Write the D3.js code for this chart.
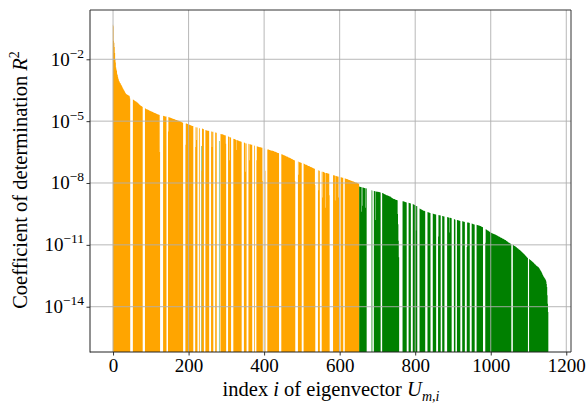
<!DOCTYPE html>
<html>
<head>
<meta charset="utf-8">
<script src="https://cdn.jsdelivr.net/npm/d3@7"></script>
<style>
  body { margin: 0; background: #fff; }
  svg { display: block; }
  text { font-family: "Liberation Serif", "Times New Roman", serif; fill: #000; }
</style>
</head>
<body>
<svg id="chart" width="587" height="406"></svg>
<script>
// log10 of R^2 per eigenvector index; null = value below the axis floor
const orangeStart = 0;
const orangeExp = [
  -0.33,-0.4,-1.1,-1.2,-1.4,-1.7,-2.0,-2.15,-2.4,-2.5,-2.55,-2.7,-2.76,-2.85,-2.93,-2.98,-3.05,-3.08,-3.12,-3.15,
  -3.18,-3.22,-3.25,-3.28,-3.32,-3.36,-3.4,-3.43,-3.46,-3.5,-3.53,-3.56,-3.6,-3.63,-3.66,-3.68,-3.7,-3.71,-3.72,-3.73,
  -3.74,-3.75,-3.76,-3.77,-3.8,-3.9,null,null,null,null,null,null,null,-3.95,-3.96,-3.98,-3.99,-4.0,-4.02,-4.03,
  -4.04,-4.05,-4.06,-4.08,-4.09,-4.1,-4.12,-4.14,-4.16,-4.18,-4.2,-4.21,-4.23,-4.24,-4.26,-4.27,-4.28,-4.29,-4.31,null,
  null,null,null,null,null,-4.38,-4.39,-4.4,-4.41,-4.42,-4.43,-4.43,-4.44,-4.45,-4.46,-4.47,-4.48,-4.49,-4.5,-4.51,
  -4.52,-4.52,-4.53,-4.54,-4.55,-4.56,-4.57,-4.58,-4.58,-4.59,-4.6,-4.61,-4.62,-4.62,-4.63,-4.64,-4.65,-4.66,-4.66,-4.67,
  -4.68,-4.69,-4.69,-4.7,-6.5,null,null,null,null,null,null,null,null,-4.74,-4.75,-4.75,-4.76,-4.76,-4.77,-4.77,
  -4.78,-4.78,null,null,null,null,-5.5,-4.8,-4.81,-4.81,-4.82,-4.83,-4.83,-4.84,-4.85,-4.86,-4.86,-4.87,-4.88,-4.88,
  -4.89,-4.9,-4.9,-4.91,-4.92,-4.93,-4.93,-4.94,-4.95,-4.95,-4.96,-4.97,-4.97,-4.98,-4.98,-4.99,-4.99,-5.0,-5.01,-5.02,
  -5.03,-5.04,-5.05,-5.06,-5.07,-5.08,null,null,null,null,null,null,-6.15,-5.11,-5.12,-5.12,-5.13,-5.14,-5.14,-5.15,
  -5.16,-5.17,-5.17,-5.18,-5.19,-5.2,-5.2,-5.21,-5.22,-5.22,-5.23,-5.24,-5.24,null,null,null,null,null,-6.25,-5.29,
  -5.3,-5.92,-5.31,-5.31,null,null,null,null,-5.34,-5.34,null,null,null,null,null,-7.4,-5.36,-5.37,-5.37,-5.38,
  -5.39,null,null,null,null,-5.43,-5.44,-5.44,-5.45,-5.45,-5.46,-5.46,-5.47,-5.47,-5.48,null,null,null,null,null,
  -5.5,-5.5,-6.25,-5.51,-5.52,-5.52,null,null,null,null,null,-5.55,-5.55,-5.56,-5.56,null,null,null,null,null,
  null,null,null,null,null,-5.62,-5.62,-5.63,-5.63,-5.64,-5.64,-5.65,-5.66,-5.66,-5.67,-5.68,-5.68,-5.69,-5.7,-6.1,
  null,null,null,null,null,-5.74,-5.75,-5.76,-5.77,-6.9,-5.78,-5.79,-5.79,null,null,null,null,null,null,-5.85,
  -5.86,-5.86,-5.87,-5.88,-5.89,-5.9,-6.4,-5.91,-5.92,-5.93,-5.93,-5.94,-5.95,-5.95,-5.96,-5.97,-5.97,-5.98,-5.99,-6.0,
  -6.0,null,null,null,null,null,null,-6.04,-6.05,-6.05,-7.45,-6.07,-6.08,-6.08,null,null,null,null,null,-6.1,
  -6.11,-6.9,-6.12,-6.12,-6.13,-6.13,-6.14,-6.15,-6.15,null,null,null,null,null,-6.18,-6.19,null,null,null,null,
  -6.9,-6.22,-6.23,-6.23,-6.24,-6.24,-6.25,-6.25,-6.26,-6.26,-6.27,-6.27,-6.28,-6.28,-6.29,-6.29,-7.9,null,null,null,
  null,null,-6.33,-7.4,null,null,null,null,null,-6.37,-6.37,-6.38,-6.38,-6.39,-6.4,-6.4,-6.41,-6.41,-6.42,-6.42,
  -6.43,-6.43,-6.44,-6.44,-6.45,-6.45,-6.46,-6.47,-6.48,-6.48,-6.49,-6.5,-6.51,-6.51,-6.52,-6.53,-6.54,-6.54,-6.55,-6.56,
  null,null,null,null,null,null,-6.6,-6.61,-6.62,-6.62,-6.63,-6.64,-6.65,-6.66,-6.67,-6.67,-6.68,-6.69,-6.7,-6.71,
  -6.72,-6.72,-6.73,-6.74,-6.75,-6.76,-6.77,-6.77,-6.78,-6.79,-6.8,-6.81,-6.82,-6.83,-6.84,-6.85,-6.86,-6.87,-6.88,-6.89,
  -6.9,-6.91,-7.9,null,null,null,null,null,null,null,-6.96,-7.6,-6.97,-6.98,-6.99,-7.0,-7.01,-7.01,-7.02,-7.03,
  null,null,null,null,null,-7.06,-7.07,-7.08,-7.09,-7.1,-7.11,-7.12,-7.12,-7.13,-7.14,-7.15,-7.16,-7.17,-7.17,-7.18,
  -7.19,-7.2,-7.21,-7.22,-7.23,-7.24,-7.24,-7.25,-7.26,-7.27,-7.28,-7.29,-7.3,-7.31,-7.31,-8.1,null,null,null,null,
  null,null,null,-7.38,-7.39,-8.35,-7.4,-7.41,null,null,null,null,null,-7.45,-7.45,-8.7,-7.46,-7.47,-7.47,-7.48,
  -7.5,-7.5,-9.2,-7.51,-7.51,-7.52,-7.52,-7.53,-7.53,-7.54,-7.54,-7.55,-7.55,-8.6,null,null,null,null,null,null,
  null,null,null,-7.62,-7.62,-7.63,-7.64,-7.64,-8.85,-7.65,-7.66,-7.66,-7.67,-7.67,-7.68,-7.68,-7.69,-8.7,-7.7,null,
  null,null,null,-7.72,-7.72,-7.73,-7.73,-7.74,-7.75,-7.75,null,null,null,null,-7.77,-7.78,-7.79,-7.79,-7.8,-7.81,
  -7.81,-7.82,-7.83,-7.84,-7.84,-7.85,-7.86,-7.87,-7.87,-7.88,-7.89,-7.89,-7.9,-7.91,-7.91,-7.92,-7.93,-7.93,-7.94,-7.95,
  -7.95,-7.96,-7.97,-7.97,-7.98,-7.99,-7.99,-8.0,-8.01,-8.02,-8.02,-8.03
];

const greenStart = 652;
const greenExp = [
  -8.17,-8.18,-8.18,-8.19,-8.19,-9.4,-8.2,-8.21,-8.22,-9.1,-8.22,-8.23,-8.23,-8.24,-8.24,-8.25,-8.25,-9.2,-8.26,-8.27,
  null,null,null,null,null,null,null,null,null,null,null,null,null,-8.35,-8.36,null,null,null,null,-8.39,
  -8.39,-8.4,-8.4,-9.8,-8.41,-8.41,-8.42,-8.42,-8.42,-8.43,-8.43,-8.44,-8.44,-8.44,-8.45,-8.45,-8.46,null,null,null,
  null,-8.48,-8.49,-8.5,-8.51,-8.52,-8.53,-8.54,-8.55,-8.56,-8.57,-8.58,-8.59,-8.6,-8.6,-8.61,-8.62,-8.62,-8.63,-8.64,
  -8.64,-8.65,-8.66,-8.67,-8.69,-8.7,-8.72,-8.73,-8.74,-8.75,-8.76,-8.77,-8.78,-8.78,-8.79,-8.8,-8.81,-8.81,-8.82,-8.83,
  -8.84,-8.84,-9.5,-10.0,-10.8,-11.6,null,null,null,null,null,null,null,null,null,-8.88,-8.89,-8.89,-8.9,-8.9,
  -8.91,-8.92,-8.92,-8.93,-8.93,-8.94,null,null,null,null,null,-8.96,-8.97,-8.97,-8.98,-8.98,-8.99,null,null,null,
  null,null,-9.02,-9.03,-9.04,-9.05,-9.06,-9.07,-9.08,-9.09,-10.3,-9.11,-9.12,-9.13,null,null,null,null,null,null,
  -9.24,-9.25,-9.26,-9.27,-9.28,-9.29,-9.3,-9.31,-9.32,-9.33,-9.34,-9.35,-9.35,-9.36,-9.37,null,null,null,null,null,
  null,-9.41,-9.42,-9.42,-9.43,-9.43,-9.44,-9.45,-9.45,null,null,null,null,null,null,-9.48,-9.49,-9.5,-9.5,-9.51,
  -9.52,-9.52,-9.53,-9.53,null,null,null,null,null,-9.55,-10.6,-9.56,-9.56,-9.57,-9.57,-9.58,null,null,null,null,
  -9.6,-9.6,-9.61,-9.61,-9.62,-9.62,null,null,null,null,null,null,null,-9.65,-9.66,-9.66,-9.67,-9.67,-10.4,-9.68,
  -9.68,-9.69,-9.7,-9.7,-9.71,null,null,null,null,null,null,-9.75,-9.76,-9.77,-9.78,null,null,null,null,-9.8,
  -9.8,-9.81,-9.81,-9.82,-9.82,-9.83,-9.83,-9.84,null,null,null,null,null,-9.86,-9.86,-9.87,-9.87,-9.88,-9.88,-9.89,
  null,null,null,null,null,-11.1,-9.91,-9.91,-9.92,-9.92,-9.93,-9.93,-9.94,null,null,null,null,null,-9.97,-9.98,
  -9.98,-9.99,-10.0,-10.0,-10.01,-10.01,null,null,null,null,null,-10.03,-10.04,-10.04,-10.05,-10.05,-10.06,-10.06,-10.07,-10.07,
  -10.08,-10.09,-10.1,-10.11,-10.12,-10.13,-10.14,-10.15,null,null,null,null,null,null,-10.9,-10.24,-10.25,-10.26,-10.28,-10.29,
  -10.3,-10.31,-10.32,-10.34,-10.35,-10.36,-10.38,-10.39,-10.4,-10.41,-10.42,-10.43,-10.44,-10.45,-10.46,-10.46,-10.47,-10.48,-10.48,-10.49,
  -10.5,-10.51,-10.52,-10.53,-10.54,-10.55,-10.56,-10.57,-10.58,-10.59,-10.6,-10.61,-10.62,-10.63,-10.64,-10.65,-10.66,-10.67,-10.68,-10.69,
  -10.7,-10.71,-10.72,-10.73,-10.74,-10.75,-10.76,-10.77,-10.78,-10.8,-10.81,-10.82,-10.84,-10.85,-10.87,-10.88,-10.89,-10.9,-10.91,-10.93,
  -10.94,-10.95,-10.96,null,null,null,null,-11.0,-11.01,-11.02,-11.04,-11.05,-11.06,-11.07,-11.09,-11.1,-11.12,-11.13,-11.15,-11.16,
  -11.18,-11.19,-11.21,-11.22,-11.24,-11.25,-11.27,-11.28,-11.3,-11.32,-11.33,-11.35,-11.37,-11.39,-11.41,-11.42,-11.44,-11.46,-11.48,-11.5,
  -11.52,-11.54,-11.56,-11.58,-11.6,-11.62,-11.64,null,null,null,-11.69,-11.7,-11.72,-11.73,-11.75,-11.76,-11.78,-11.79,-11.81,-11.83,
  -11.84,-11.86,-11.88,-11.9,-11.92,-11.94,-11.95,-11.97,-11.99,-12.01,-12.03,-12.04,-12.05,-12.06,-12.08,-12.1,-12.12,-12.15,-12.18,-12.21,
  -12.24,-12.27,-12.3,-12.34,-12.38,-12.42,-12.46,-12.5,-12.53,-12.56,-12.59,-12.62,-12.65,-12.68,-12.72,-12.78,-12.9,-13.05,-13.45,-13.86,-14.26
];

// a few green bars that sit inside the orange block
const greenEarlyIndex = [235, 281];
const greenEarlyExp = [-6.2, -5.96];

const xTicks = [0, 200, 400, 600, 800, 1000, 1200];
const yTickExp = [-2, -5, -8, -11, -14];

const W = 587, H = 406;
const L = 90, R = 571, T = 10, B = 352;

const svg = d3.select("#chart");

const x = d3.scaleLinear().domain([-61, 1212.5]).range([L, R]);
const y = d3.scaleLog().domain([Math.pow(10, -16.197), Math.pow(10, 0.391)]).range([B, T]);

function toBars(start, exps) {
  const out = [];
  exps.forEach((e, k) => { if (e !== null) out.push({ i: start + k, v: Math.pow(10, e) }); });
  return out;
}

// one filled outline per run of consecutive bars, so neighbouring bars merge without seams
function barsPath(bars) {
  const p = d3.path();
  let k = 0;
  while (k < bars.length) {
    let j = k;
    while (j + 1 < bars.length && bars[j + 1].i === bars[j].i + 1) j++;
    p.moveTo(x(bars[k].i - 0.5), B);
    for (let m = k; m <= j; m++) {
      const yt = y(bars[m].v);
      p.lineTo(x(bars[m].i - 0.5), yt);
      p.lineTo(x(bars[m].i + 0.5), yt);
    }
    p.lineTo(x(bars[j].i + 0.5), B);
    p.closePath();
    k = j + 1;
  }
  return p.toString();
}

const orangeBars = toBars(orangeStart, orangeExp);
const greenBars = toBars(greenStart, greenExp)
  .concat(greenEarlyIndex.map((i, k) => ({ i: i, v: Math.pow(10, greenEarlyExp[k]) })))
  .sort((a, b) => a.i - b.i);

svg.append("defs").append("clipPath").attr("id", "plotClip")
  .append("rect").attr("x", L).attr("y", T).attr("width", R - L).attr("height", B - T);

const plot = svg.append("g").attr("clip-path", "url(#plotClip)");

plot.append("path").attr("d", barsPath(greenBars)).attr("fill", "#008000");
plot.append("path").attr("d", barsPath(orangeBars)).attr("fill", "#ffa500");

// grid drawn above the bars
const grid = svg.append("g").attr("stroke", "#b0b0b0").attr("stroke-width", 0.9);
grid.selectAll("line.gx").data(xTicks).enter().append("line")
  .attr("x1", d => x(d)).attr("x2", d => x(d)).attr("y1", T).attr("y2", B);
grid.selectAll("line.gy").data(yTickExp).enter().append("line")
  .attr("x1", L).attr("x2", R).attr("y1", d => y(Math.pow(10, d))).attr("y2", d => y(Math.pow(10, d)));

// axes
const xAxis = d3.axisBottom(x).tickValues(xTicks).tickSize(3.5).tickPadding(4).tickFormat(d3.format("d"));
const gx = svg.append("g").attr("transform", `translate(0,${B})`).call(xAxis);
gx.select(".domain").remove();
gx.selectAll(".tick line").attr("stroke", "#000").attr("stroke-width", 0.8);
gx.selectAll(".tick text").attr("font-size", 19).attr("font-family", '"Liberation Serif", serif').attr("fill", "#000").attr("dy", "0.68em");

const yAxis = d3.axisLeft(y).tickValues(yTickExp.map(e => Math.pow(10, e))).tickSize(3.5).tickFormat("");
const gy = svg.append("g").attr("transform", `translate(${L},0)`).call(yAxis);
gy.select(".domain").remove();
gy.selectAll(".tick line").attr("stroke", "#000").attr("stroke-width", 0.8);

const yl = svg.append("g").selectAll("text").data(yTickExp).enter().append("text")
  .attr("x", 84).attr("y", d => y(Math.pow(10, d)) + 6.5)
  .attr("text-anchor", "end").attr("font-size", 19);
yl.append("tspan").text("10");
yl.append("tspan").attr("dy", -8).attr("font-size", 13.5).text(d => "\u2212" + Math.abs(d));

// frame
const frame = svg.append("g").attr("fill", "none");
frame.append("line").attr("x1", L).attr("x2", L).attr("y1", T).attr("y2", B + 0.5).attr("stroke", "#222").attr("stroke-width", 1);
frame.append("line").attr("x1", L).attr("x2", R).attr("y1", B).attr("y2", B).attr("stroke", "#222").attr("stroke-width", 1);
frame.append("line").attr("x1", L).attr("x2", R).attr("y1", T).attr("y2", T).attr("stroke", "#333").attr("stroke-width", 1);
frame.append("line").attr("x1", R).attr("x2", R).attr("y1", T).attr("y2", B).attr("stroke", "#333").attr("stroke-width", 1);

// axis titles
const xt = svg.append("text").attr("x", 331).attr("y", 396).attr("text-anchor", "middle").attr("font-size", 20.5);
xt.append("tspan").text("index ");
xt.append("tspan").attr("font-style", "italic").text("i");
xt.append("tspan").text(" of eigenvector ");
xt.append("tspan").attr("font-style", "italic").text("U");
xt.append("tspan").attr("dy", 4.5).attr("font-size", 14).attr("font-style", "italic").text("m,i");

const yt = svg.append("text").attr("transform", "translate(27,180) rotate(-90)")
  .attr("text-anchor", "middle").attr("font-size", 20.5);
yt.append("tspan").text("Coefficient of determination ");
yt.append("tspan").attr("font-style", "italic").text("R");
yt.append("tspan").attr("dy", -8).attr("font-size", 14).text("2");
</script>
</body>
</html>
